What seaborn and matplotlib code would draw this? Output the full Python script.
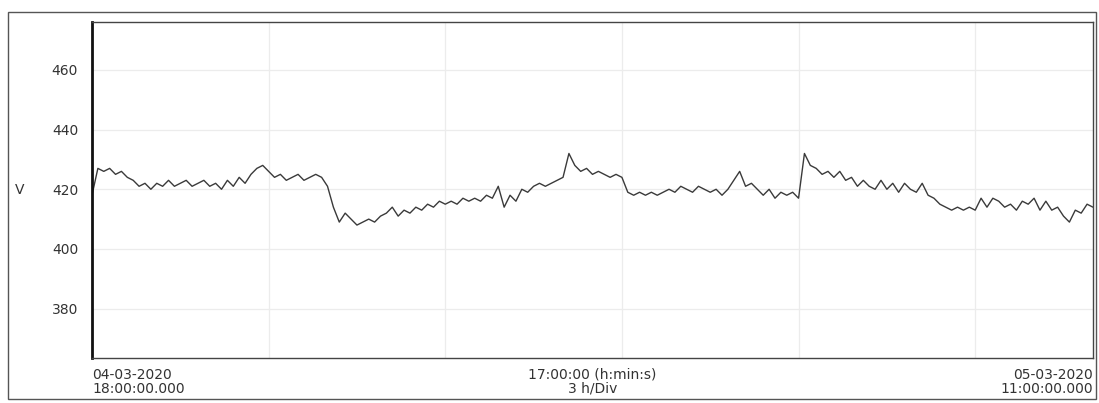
import numpy as np
import pandas as pd
import matplotlib
matplotlib.use("Agg")
import matplotlib.pyplot as plt
import seaborn as sns
from matplotlib.patches import Rectangle

# voltage readings every 6 minutes, 04-03-2020 18:00 -> 05-03-2020 11:00
volts = [
    418, 427, 426, 427, 425, 426, 424, 423, 421, 422,   # 18h
    420, 422, 421, 423, 421, 422, 423, 421, 422, 423,   # 19h
    421, 422, 420, 423, 421, 424, 422, 425, 427, 428,   # 20h
    426, 424, 425, 423, 424, 425, 423, 424, 425, 424,   # 21h
    421, 414, 409, 412, 410, 408, 409, 410, 409, 411,   # 22h
    412, 414, 411, 413, 412, 414, 413, 415, 414, 416,   # 23h
    415, 416, 415, 417, 416, 417, 416, 418, 417, 421,   # 00h
    414, 418, 416, 420, 419, 421, 422, 421, 422, 423,   # 01h
    424, 432, 428, 426, 427, 425, 426, 425, 424, 425,   # 02h
    424, 419, 418, 419, 418, 419, 418, 419, 420, 419,   # 03h
    421, 420, 419, 421, 420, 419, 420, 418, 420, 423,   # 04h
    426, 421, 422, 420, 418, 420, 417, 419, 418, 419,   # 05h
    417, 432, 428, 427, 425, 426, 424, 426, 423, 424,   # 06h
    421, 423, 421, 420, 423, 420, 422, 419, 422, 420,   # 07h
    419, 422, 418, 417, 415, 414, 413, 414, 413, 414,   # 08h
    413, 417, 414, 417, 416, 414, 415, 413, 416, 415,   # 09h
    417, 413, 416, 413, 414, 411, 409, 413, 412, 415, 414,  # 10h-11h
]
hours = np.arange(len(volts)) * 0.1

y_ticks = [380, 400, 420, 440, 460]
y_ticklabels = ["380", "400", "420", "440", "460"]
x_grid = [3, 6, 9, 12, 15]

df = pd.DataFrame({"hours": hours, "V": volts})

sns.set_style("white")
plt.rcParams["font.family"] = ["DejaVu Sans"]

fig = plt.figure(figsize=(10.99, 4.03), dpi=100)
ax = fig.add_axes([0.0837, 0.112, 0.9108, 0.833])

sns.lineplot(data=df, x="hours", y="V", ax=ax, color="#3a3a3a", linewidth=1.0)

ax.set_xlim(0, 17)
ax.set_ylim(363.5, 476)
ax.set_yticks(y_ticks)
ax.set_yticklabels(y_ticklabels, fontsize=10, color="#333333")
ax.set_xticks(x_grid)
ax.set_xticklabels([])
ax.tick_params(axis="both", length=0, pad=10)
ax.grid(True, color="#ececec", linewidth=0.9)
ax.set_xlabel("")
ax.set_ylabel("")

fig.text(20 / 1099, 1 - 190 / 403, "V", ha="center", va="center",
         fontsize=10, color="#333333")

for side in ["top", "right", "bottom"]:
    ax.spines[side].set_color("#444444")
    ax.spines[side].set_linewidth(1.0)
ax.spines["left"].set_color("#111111")
ax.spines["left"].set_linewidth(2.0)

ax.text(0.0, -0.03, "04-03-2020\n18:00:00.000", transform=ax.transAxes,
        ha="left", va="top", fontsize=10, color="#333333", linespacing=1.0)
ax.text(0.5, -0.03, "17:00:00 (h:min:s)\n3 h/Div", transform=ax.transAxes,
        ha="center", va="top", fontsize=10, color="#333333", linespacing=1.0,
        multialignment="center")
ax.text(1.0, -0.03, "05-03-2020\n11:00:00.000", transform=ax.transAxes,
        ha="right", va="top", fontsize=10, color="#333333", linespacing=1.0,
        multialignment="right")

# outer frame around the whole printout
fig.patches.append(Rectangle((8 / 1099, 1 - 399 / 403), 1088 / 1099, 387 / 403,
                             transform=fig.transFigure, fill=False,
                             edgecolor="#555555", linewidth=1.0))

fig.savefig("out.png", dpi=100)
